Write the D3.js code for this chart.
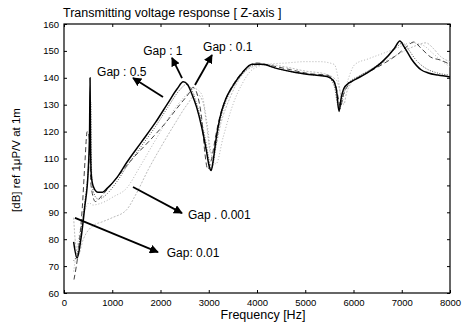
<!DOCTYPE html>
<html>
<head>
<meta charset="utf-8">
<script src="https://cdn.jsdelivr.net/npm/d3@7"></script>
<style>
  body { margin: 0; background: #fff; }
  svg { display: block; font-family: 'Liberation Sans', Arial, sans-serif; }
</style>
</head>
<body>
<div class="chart"></div>
<script>
// frequency (Hz) / level (dB), one pair of arrays per gap
const gap1F = [200,270,350,430,500,530,540,550,565,600,700,800,900,1100,1300,1600,1900,2150,2350,2470,2560,2650,2750,2850,2950,3010,3050,3090,3150,3230,3350,3500,3700,3900,4100,4400,4800,5200,5450,5580,5650,5700,5740,5800,5900,6050,6300,6600,6850,6960,7050,7200,7400,7550,7750,8000];
const gap1V = [79,73,80,92,105,120,140,115,104,100,97.5,97.5,99,103,108.5,116,123.5,130.5,136,138.5,137.5,134,129,122,113,107,105.5,109,117,125,132,137,142,145,145,143.5,142,141,140.5,139,135,127.5,132,136,138,139.5,142,146,151,153.7,151.5,147,143,141.8,141,140.3];

const gap05F = [200,280,360,440,510,545,555,565,580,620,700,800,900,1100,1300,1600,1900,2150,2400,2530,2620,2720,2820,2920,3000,3040,3080,3150,3230,3350,3500,3700,3900,4100,4400,4800,5200,5450,5600,5660,5710,5760,5820,5950,6100,6350,6650,6900,7020,7120,7300,7500,7700,8000];
const gap05V = [72,75,84,95,108,122,131,112,102,97,95,95.5,97,101.5,107,114.5,122,129,135.5,137.5,136.5,132,126,118,110,106,107,115,123.5,131,136.5,141.5,144.5,145,143.5,142,141,140.5,137,131,128,132,136,139,140.5,143,147,151.5,153,151,146.5,143.5,142,141];

const gap01F = [207,300,380,435,480,520,560,650,800,1057,1400,1824,2093,2400,2600,2674,2740,2800,2860,2920,2980,3060,3150,3250,3400,3600,3800,4000,4300,4700,5100,5450,5620,5690,5730,5780,5880,6050,6300,6600,6900,7100,7250,7400,7600,7800,8000];
const gap01V = [65,76,92,109,120,118,100,94,96.5,102,109.5,117.6,123,130,134.5,136.5,135,131,124,112,106,110,119,127,134,140,144,145.5,144.5,143,141.5,141,138,132,129,133,137,139.5,142,145,148.5,151.5,153.3,151,147.7,146.6,145];

const gap001F = [200,230,290,400,600,800,1000,1300,1500,1750,2000,2300,2550,2750,2880,2960,3040,3120,3250,3450,3650,3900,4200,4600,5000,5400,5650,5750,5800,5850,5950,6150,6400,6700,7000,7300,7500,7650,7800,8000];
const gap001V = [88,80,74,80,85,86.5,88,91,97,106,114,123,130,134,131,122,112,113,123,133,140,144,145,144,142.5,141.5,139,133,130,134,138,141,143.5,146.5,149.5,152,153,151,148,146];

const gap0001F = [200,300,420,520,600,700,850,1016,1300,1575,1900,2238,2500,2700,2850,2950,3050,3150,3300,3500,3700,3900,4200,4600,5000,5300,5600,5700,5760,5820,5900,6030,6300,6600,6900,7200,7450,7650,7850,8000];
const gap0001V = [68,80,90,93.5,92.7,93,94,95.7,99,107,117,127,133,136,134,125,112,108,118,130,138,143,145,145.5,146,146,145,138,131,135,140,145,147,149,151,153,152,149,146,144];

const xTicks = [0,1000,2000,3000,4000,5000,6000,7000,8000];
const yTicks = [60,70,80,90,100,110,120,130,140,150,160];

// annotation arrows: label, text anchor [Hz, dB], arrow tail and head [Hz, dB]
const notes = [
  { label: 'Gap : 1',     at: [1640, 148.5], tail: [2446, 139.9], head: [2238, 147.4] },
  { label: 'Gap : 0.1',   at: [2882, 149.8], tail: [2715, 137.3], head: [3067, 148.5] },
  { label: 'Gap : 0.5',   at: [685, 140.5],  tail: [2052, 132.9], head: [1430, 139.9] },
  { label: 'Gap . 0.001', at: [2570, 87.5],  tail: [1430, 99.4],  head: [2446, 89.7] },
  { label: 'Gap: 0.01',   at: [2130, 73.5],  tail: [228, 87.9],   head: [1948, 75.2] }
];

const W = 465, H = 328,
  m = { top: 24, right: 15, bottom: 35, left: 64 },
  width = W - m.left - m.right,
  height = H - m.top - m.bottom;

const x = d3.scaleLinear().domain([0, 8000]).range([0, width]),
  y = d3.scaleLinear().domain([60, 160]).range([height, 0]);

const root = d3.select('.chart').append('svg').attr('width', W).attr('height', H);
const svg = root.append('g').attr('transform', `translate(${m.left},${m.top})`);

root.append('defs').append('marker')
  .attr('id', 'head')
  .attr('viewBox', '0 0 10 10')
  .attr('refX', 9).attr('refY', 5)
  .attr('markerWidth', 5).attr('markerHeight', 5)
  .attr('markerUnits', 'strokeWidth')
  .attr('orient', 'auto')
  .append('path').attr('d', 'M0,0L10,5L0,10z').attr('fill', '#000');

// axes, MATLAB style: ticks inward on all four sides
const tickStyle = g => {
  g.select('.domain').remove();
  g.selectAll('line').attr('stroke', '#000').attr('stroke-width', 1);
  g.selectAll('text').attr('fill', '#000').style('font-size', '9.5px');
};
svg.append('g').attr('transform', `translate(0,${height})`)
  .call(d3.axisBottom(x).tickValues(xTicks).tickSize(-3).tickPadding(6).tickFormat(d3.format('d')))
  .call(tickStyle);
svg.append('g')
  .call(d3.axisTop(x).tickValues(xTicks).tickSize(-3).tickFormat(''))
  .call(tickStyle);
svg.append('g')
  .call(d3.axisLeft(y).tickValues(yTicks).tickSize(-3).tickPadding(5))
  .call(tickStyle);
svg.append('g').attr('transform', `translate(${width},0)`)
  .call(d3.axisRight(y).tickValues(yTicks).tickSize(-3).tickFormat(''))
  .call(tickStyle);

svg.append('rect')
  .attr('width', width).attr('height', height)
  .attr('fill', 'none').attr('stroke', '#000').attr('stroke-width', 1.2);

const series = [
  { f: gap0001F, v: gap0001V, color: '#aaa', w: 0.9, dash: '1,2' },
  { f: gap001F,  v: gap001V,  color: '#aaa', w: 0.8, dash: '2,1.5' },
  { f: gap01F,   v: gap01V,   color: '#444', w: 1,   dash: '5,3' },
  { f: gap05F,   v: gap05V,   color: '#555', w: 1,   dash: '1,1.5' },
  { f: gap1F,    v: gap1V,    color: '#000', w: 1.5, dash: null }
];

const line = d3.line()
  .x(d => x(d[0]))
  .y(d => y(d[1]))
  .curve(d3.curveMonotoneX);

svg.selectAll('.curve')
  .data(series)
  .enter()
  .append('path')
  .attr('class', 'curve')
  .attr('d', s => line(d3.zip(s.f, s.v)))
  .attr('fill', 'none')
  .attr('stroke', s => s.color)
  .attr('stroke-width', s => s.w)
  .attr('stroke-dasharray', s => s.dash)
  .attr('stroke-linejoin', 'round');

// arrows and labels
svg.selectAll('.arrow')
  .data(notes)
  .enter()
  .append('line')
  .attr('class', 'arrow')
  .attr('x1', d => x(d.tail[0])).attr('y1', d => y(d.tail[1]))
  .attr('x2', d => x(d.head[0])).attr('y2', d => y(d.head[1]))
  .attr('stroke', '#000').attr('stroke-width', 1.8)
  .attr('marker-end', 'url(#head)');

svg.selectAll('.note')
  .data(notes)
  .enter()
  .append('text')
  .attr('class', 'note')
  .attr('x', d => x(d.at[0])).attr('y', d => y(d.at[1]))
  .style('font-size', '12px')
  .text(d => d.label);

root.append('text')
  .attr('x', 63).attr('y', 17)
  .style('font-size', '12.5px')
  .text('Transmitting voltage response [ Z-axis ]');

root.append('text')
  .attr('x', 263).attr('y', 319)
  .attr('text-anchor', 'middle')
  .style('font-size', '12.5px')
  .text('Frequency [Hz]');

root.append('text')
  .attr('transform', 'translate(20,160) rotate(-90)')
  .attr('text-anchor', 'middle')
  .style('font-size', '11.5px')
  .text('[dB] ref 1μP/V at 1m');
</script>
</body>
</html>
